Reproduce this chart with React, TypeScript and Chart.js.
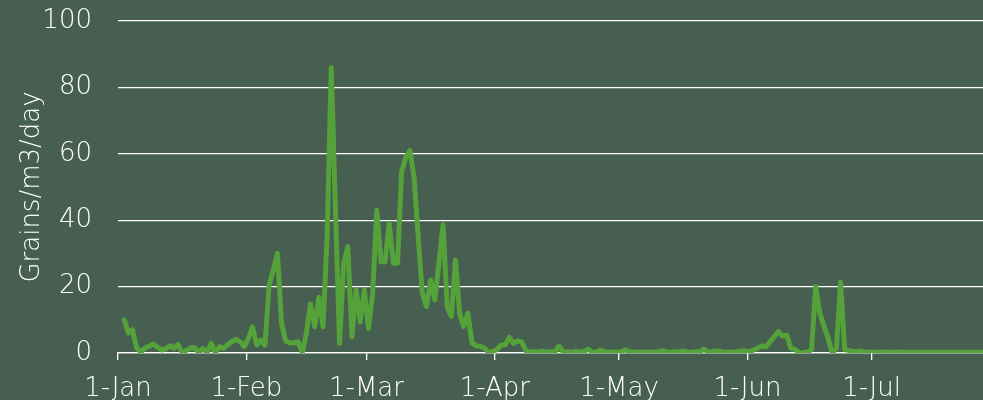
import React, { useEffect, useRef } from "react";
import { Chart, registerables } from "chart.js";

Chart.register(...registerables);

const MONTH_LABELS = ["1-Jan", "1-Feb", "1-Mar", "1-Apr", "1-May", "1-Jun", "1-Jul"];
const MONTH_START_DAYS = [0, 31, 60, 91, 121, 152, 182];
const Y_TICKS = [0, 20, 40, 60, 80, 100];
const Y_TITLE = "Grains/m3/day";

// daily pollen counts, index 0 = 1-Jan
const DAILY_GRAINS: (number | null)[] = [
  null, 10, 6, 7, 1.5, 0.3, 1.5, 2, 2.7, 1.8,
  0.9, 1.2, 2.2, 1.4, 2.6, 0.1, 0.8, 1.5, 1.6, 0.1,
  1.4, 0.1, 2.9, 0.1, 1.9, 1.4, 2.5, 3.5, 4.1, 3.4,
  1.9, 4.5, 7.9, 2.4, 3.9, 2.4, 20.5, 25, 30, 9,
  3.6, 3.0, 3.1, 3.4, 0.1, 6, 14.8, 7.9, 16.8, 7.9,
  35, 86, 44, 2.9, 27, 32, 4.9, 19, 9.4, 19,
  7.4, 18, 43, 27.5, 27.5, 39, 27, 27, 54.6, 59,
  61, 53, 35, 18, 14, 22, 16, 27, 38.6, 14,
  11, 28, 12, 8, 12, 3, 2.2, 2, 1.5, 0.1,
  0.5, 1, 2.4, 2.5, 4.7, 2.9, 3.6, 3.4, 0.7, 0.3,
  0.4, 0.3, 0.5, 0.3, 0.4, 0.3, 2.1, 0.3, 0.4, 0.2,
  0.5, 0.3, 0.4, 1.2, 0.3, 0.2, 0.9, 0.4, 0.2, 0.3,
  0.2, 0.4, 1.0, 0.4, 0.3, 0.2, 0.3, 0.2, 0.2, 0.3,
  0.4, 0.7, 0.3, 0.2, 0.4, 0.3, 0.6, 0.3, 0.2, 0.4,
  0.3, 1.2, 0.3, 0.4, 0.6, 0.5, 0.2, 0.3, 0.2, 0.4,
  0.6, 0.6, 0.3, 0.9, 1.5, 2.1, 1.9, 3.4, 5, 6.4,
  5.1, 5.4, 1.4, 1.1, 0.1, 0.1, 0.3, 1, 20, 12,
  8, 4.5, 0, 1.4, 21.3, 1, 0.8, 0.5, 0.4, 0.6,
  0.2, 0.3, 0.2, 0.2, 0.3, 0.2, 0.2, 0.2, 0.3, 0.2,
  0.2, 0.2, 0.2, 0.2, 0.2, 0.2, 0.2, 0.2, 0.2, 0.2,
  0.2, 0.2, 0.2, 0.2, 0.2, 0.2, 0.2, 0.2, 0.2, 0.2,
];

const BG = "#465F50";
const LINE = "#55A13A";
const TEXT = "#FFFFFF";
const FONT = { family: "'DejaVu Sans', sans-serif", size: 26, weight: 300 as any };

export default function App() {
  const ref = useRef<HTMLCanvasElement>(null);

  useEffect(() => {
    if (!ref.current) return;
    const points = DAILY_GRAINS.map((v, i) => ({ x: i + 0.5, y: v }));
    const chart = new Chart(ref.current, {
      type: "line",
      data: {
        datasets: [
          {
            data: points as any,
            borderColor: LINE,
            borderWidth: 5,
            pointRadius: 0,
            tension: 0,
            borderJoinStyle: "round",
            borderCapStyle: "round",
          },
        ],
      },
      options: {
        animation: false,
        responsive: false,
        layout: { padding: { top: 21, left: 0, right: 0, bottom: 0 } },
        plugins: { legend: { display: false }, tooltip: { enabled: false } },
        scales: {
          x: {
            type: "linear",
            min: 0,
            max: 208.9,
            afterBuildTicks: (s: any) => {
              s.ticks = MONTH_START_DAYS.map((v) => ({ value: v }));
            },
            afterFit: (s: any) => {
              s.height = 67;
              s.paddingLeft = 0;
              s.paddingRight = 0;
            },
            ticks: {
              callback: (v: any) => MONTH_LABELS[MONTH_START_DAYS.indexOf(Number(v))] ?? "",
              color: TEXT,
              font: FONT,
              padding: 14,
              maxRotation: 0,
              autoSkip: false,
            },
            grid: { drawOnChartArea: false, drawTicks: true, tickLength: 7, color: TEXT, lineWidth: 1.3 },
            border: { display: true, color: TEXT, width: 1.3 },
          },
          y: {
            min: 0,
            max: 100,
            afterBuildTicks: (s: any) => {
              s.ticks = Y_TICKS.map((v) => ({ value: v }));
            },
            afterFit: (s: any) => {
              s.width = 118;
              s.paddingTop = 0;
              s.paddingBottom = 0;
            },
            ticks: { color: TEXT, font: FONT, padding: 26 },
            grid: { drawTicks: false, color: TEXT, lineWidth: 1.3 },
            border: { display: false },
            title: {
              display: true,
              text: Y_TITLE,
              color: TEXT,
              font: FONT,
              padding: { top: 17, bottom: 0 },
            },
          },
        },
      },
    });
    return () => chart.destroy();
  }, []);

  return (
    <div
      style={{
        position: "fixed",
        left: 0,
        top: 0,
        width: 983,
        height: 400,
        overflow: "hidden",
        background: BG,
      }}
    >
      <canvas ref={ref} width={983} height={420} style={{ display: "block" }} />
    </div>
  );
}
